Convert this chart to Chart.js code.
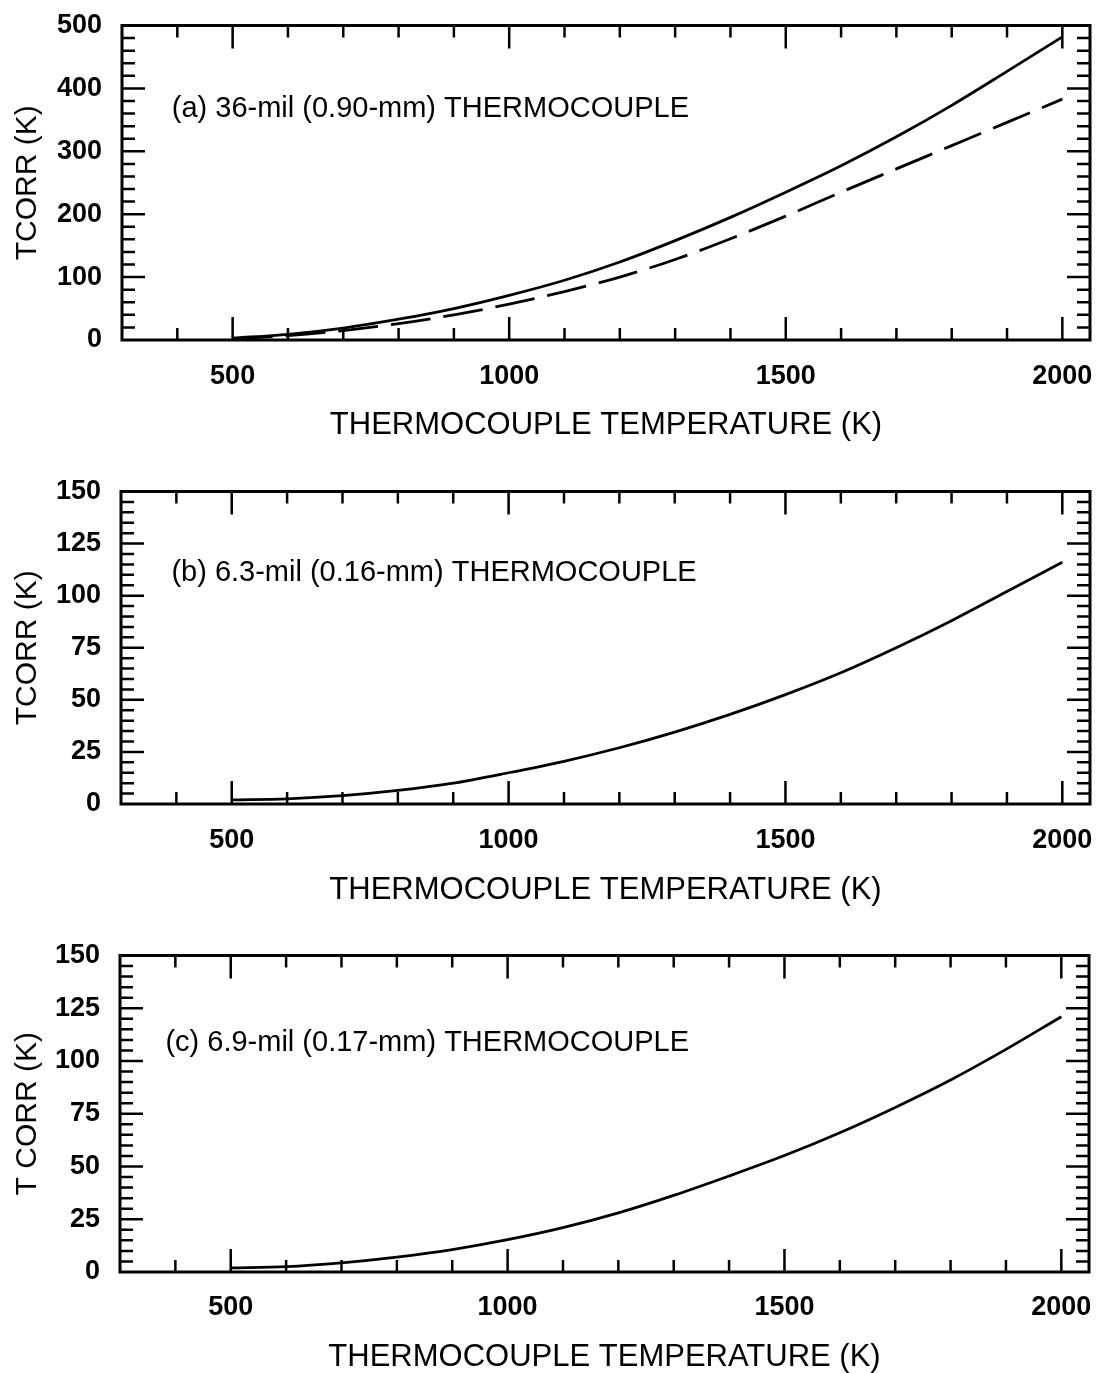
<!DOCTYPE html>
<html><head><meta charset="utf-8">
<script src="https://cdn.jsdelivr.net/npm/chart.js@4.4.1/dist/chart.umd.min.js"></script>
<style>
body{margin:0;background:#fff;width:1097px;height:1373px;position:relative;overflow:hidden}
canvas{position:absolute;left:0}
</style></head><body>
<canvas id="cA" width="1097" height="470" style="top:0px"></canvas>
<canvas id="cB" width="1097" height="470" style="top:466px"></canvas>
<canvas id="cC" width="1097" height="470" style="top:930px"></canvas>
<script>
// thermocouple temperature (K)
const temps=[500,600,700,800,900,1000,1100,1200,1300,1400,1500,1600,1700,1800,1900,2000];
// TCORR (K)
const corr36solid=[3,9,19,33,50,71,95,124,158,195,235,277,323,373,427,482];
const corr36dash=[2,7,15,26,40,57,77,100,128,161,197,235,272,309,346,383];
const corr63=[2,2.5,4,6.5,10,15,20.5,27,34.5,43,52.5,63,75,88,102,116];
const corr69=[2,2.5,4.3,7,10.6,15.3,21,28,36.3,45.5,55.2,66,78,91,105.5,121];
const xTickLabels=[500,1000,1500,2000];
const xTitle='THERMOCOUPLE TEMPERATURE (K)';

Chart.defaults.font.family='"Liberation Sans", Arial, sans-serif';
Chart.defaults.color='#000';

const frame={id:'frame',afterDraw(c,args,o){
 const {ctx,chartArea:a,scales:{x,y}}=c;
 ctx.save();
 ctx.strokeStyle='#000';
 ctx.lineWidth=2.5;
 ctx.beginPath();
 for(let v=Math.ceil(x.min/o.xMinor)*o.xMinor;v<=x.max;v+=o.xMinor){
  const p=x.getPixelForValue(v);
  if(p<a.left+3||p>a.right-3)continue;
  const l=v%o.xMajor===0?23:12;
  ctx.moveTo(p,a.bottom);ctx.lineTo(p,a.bottom-l);
  ctx.moveTo(p,a.top);ctx.lineTo(p,a.top+l);
 }
 for(let v=y.min+o.yMinor;v<y.max;v+=o.yMinor){
  const p=y.getPixelForValue(v);
  const l=v%o.yMajor===0?23:13;
  ctx.moveTo(a.left,p);ctx.lineTo(a.left+l,p);
  ctx.moveTo(a.right,p);ctx.lineTo(a.right-l,p);
 }
 ctx.stroke();
 ctx.lineWidth=3;
 ctx.strokeRect(a.left,a.top,a.right-a.left,a.bottom-a.top);
 ctx.fillStyle='#000';
 ctx.font='29px "Liberation Sans", Arial, sans-serif';
 ctx.textBaseline='middle';
 ctx.fillText(o.label,x.getPixelForValue(o.lx),y.getPixelForValue(o.ly));
 ctx.restore();
}};

function panel(id,p){
 const H=470;
 return new Chart(document.getElementById(id),{
  type:'line',
  data:{datasets:p.series.map(s=>({
   data:temps.map((t,i)=>({x:t,y:s.v[i]})),
   borderColor:'#000',borderWidth:2.8,borderDash:s.dash||[],
   pointRadius:0,fill:false,cubicInterpolationMode:'monotone'
  }))},
  options:{
   responsive:false,animation:false,devicePixelRatio:1,
   layout:{padding:{top:p.top-p.c,right:1097-p.right,left:0,bottom:0}},
   plugins:{legend:{display:false},tooltip:{enabled:false},
    frame:{xMinor:100,xMajor:500,yMinor:p.yMinor,yMajor:p.yStep,label:p.label,lx:p.lx,ly:p.ly}},
   scales:{
    x:{type:'linear',min:300,max:2050,
     grid:{display:false},border:{display:false},
     afterBuildTicks:s=>{s.ticks=xTickLabels.map(v=>({value:v}));},
     afterFit:s=>{s.height=H-(p.bottom-p.c);s.paddingLeft=0;s.paddingRight=0;},
     ticks:{font:{size:27,weight:'bold',lineHeight:1},padding:p.labelY-p.bottom-13.5,maxRotation:0,autoSkip:false,callback:v=>String(v)},
     title:{display:true,text:xTitle,font:{size:31,lineHeight:1},padding:{top:0,bottom:p.c+H-p.titleY-15.5}}},
    y:{min:0,max:p.yMax,
     grid:{display:false},border:{display:false},
     afterFit:s=>{s.width=p.left;},
     ticks:{stepSize:p.yStep,font:{size:27,weight:'bold',lineHeight:1},padding:12,callback:v=>String(v)},
     title:{display:true,text:p.yTitle,font:{size:30,lineHeight:1},padding:{top:13,bottom:0}}}
   }
  },
  plugins:[frame]
 });
}

panel('cA',{c:0,top:17,bottom:340,left:122,right:1090,labelY:369,titleY:425,
 yMax:500,yStep:100,yMinor:20,yTitle:'TCORR (K)',
 label:'(a) 36-mil (0.90-mm) THERMOCOUPLE',lx:390,ly:368,
 series:[{v:corr36solid},{v:corr36dash,dash:[40,13]}]});
panel('cB',{c:466,top:483,bottom:804,left:121,right:1090,labelY:833,titleY:890,
 yMax:150,yStep:25,yMinor:5,yTitle:'TCORR (K)',
 label:'(b) 6.3-mil (0.16-mm) THERMOCOUPLE',lx:391,ly:111,
 series:[{v:corr63}]});
panel('cC',{c:930,top:947,bottom:1272,left:120,right:1089,labelY:1300,titleY:1357,
 yMax:150,yStep:25,yMinor:5,yTitle:'T CORR (K)',
 label:'(c) 6.9-mil (0.17-mm) THERMOCOUPLE',lx:382,ly:108.5,
 series:[{v:corr69}]});
</script>
</body></html>
